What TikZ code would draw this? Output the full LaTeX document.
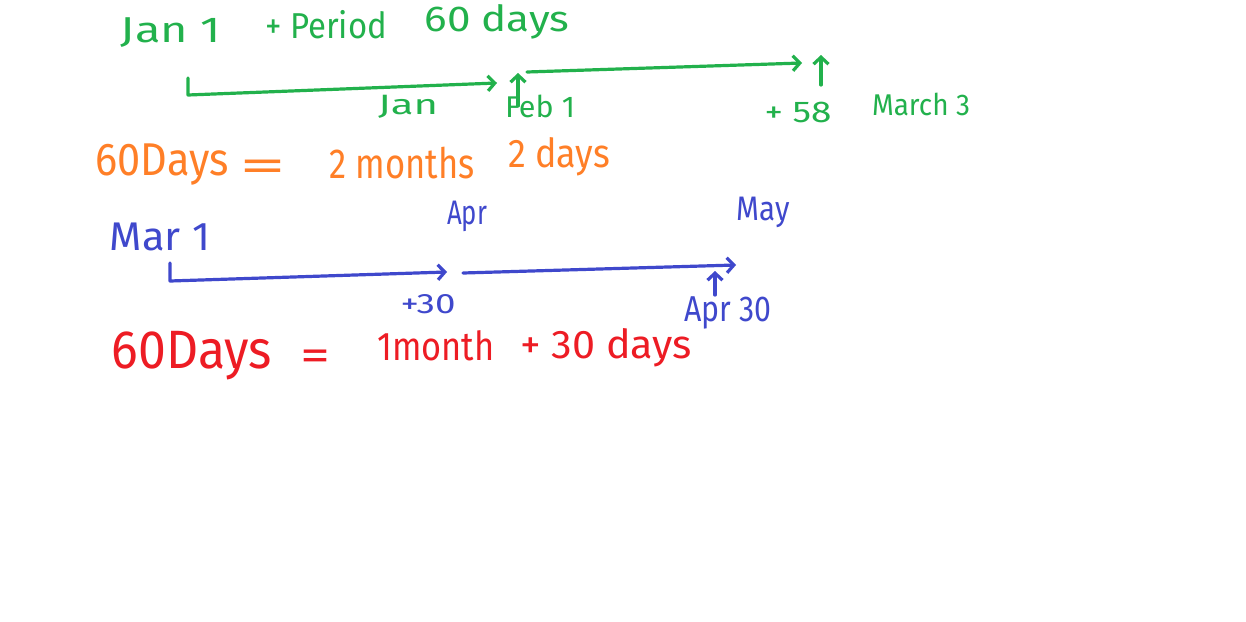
\documentclass[tikz,border=0pt]{standalone}
\usepackage{fontspec}
\usepackage{graphicx}
\setmainfont{Fira Sans}
\usetikzlibrary{arrows.meta}
\definecolor{pgreen}{RGB}{34,177,76}
\definecolor{porange}{RGB}{255,127,39}
\definecolor{pblue}{RGB}{63,72,204}
\definecolor{pred}{RGB}{237,28,36}
\newcommand{\hw}[2]{\resizebox{#1pt}{\height}{#2}}
\tikzset{
  txt/.style={inner sep=0pt, font=\fontsize{#1}{#1}\selectfont},
  stroke/.style={line width=3.2pt, line cap=round, line join=round, -{Straight Barb[length=7pt,width=15pt,line width=3.2pt]}}
}
\begin{document}
\begin{tikzpicture}[x=1pt,y=-1pt]
\useasboundingbox[fill=white] (0,0) rectangle (1246,621);
% green
\begin{scope}[color=pgreen, every node/.append style={text=pgreen}]
\node[txt=36] (jan1) at (171,33) {\hw{100}{Jan 1}};
\node[txt=36] (period) at (326,25) {\hw{122}{+ Period}};
\node[txt=36] (sixty) at (497,22) {\hw{145}{60 days}};
\coordinate (g0) at (188,78);
\coordinate (g1) at (497,83);
\coordinate (g2) at (527,72);
\coordinate (g3) at (802,63);
\coordinate (ua0) at (518,106);
\coordinate (ua1) at (518,73);
\coordinate (ub0) at (821,85);
\coordinate (ub1) at (821,55);
\draw[stroke] (g0) -- (188,95) -- (g1);
\draw[stroke] (g2) -- (g3);
\draw[stroke] (ua0) -- (ua1);
\draw[stroke] (ub0) -- (ub1);
\node[txt=28] (jan) at (408,107) {\hw{60}{Jan}};
\node[txt=30] (feb1) at (540,106) {\hw{70}{Feb 1}};
\node[txt=30] (p58) at (798,112) {\hw{67}{+ 58}};
\node[txt=30] (mar3) at (921,104) {\hw{98}{March 3}};
\end{scope}
% orange
\begin{scope}[every node/.append style={text=porange}]
\node[txt=46] (o60) at (162,165) {\hw{133}{60Days}};
\node[txt=46] (oeq) at (263,171) {\hw{47}{=}};
\node[txt=42] (o2m) at (402,163) {\hw{145}{2 months}};
\node[txt=40] (o2d) at (559,157) {\hw{102}{2 days}};
\end{scope}
% blue
\begin{scope}[color=pblue, every node/.append style={text=pblue}]
\node[txt=40] (mar1) at (160,237) {\hw{100}{Mar 1}};
\node[txt=34] (apr) at (467,216) {\hw{40}{Apr}};
\node[txt=34] (may) at (763,212) {\hw{53}{May}};
\coordinate (b0) at (170,263);
\coordinate (b1) at (447,272);
\coordinate (b2) at (463,273);
\coordinate (b3) at (736,265);
\coordinate (bu0) at (715,295);
\coordinate (bu1) at (715,271);
\draw[stroke] (b0) -- (170,281) -- (b1);
\draw[stroke] (b2) -- (b3);
\draw[stroke] (bu0) -- (bu1);
\node[txt=28] (p30) at (428,304) {\hw{55}{+30}};
\node[txt=36] (apr30) at (728,313) {\hw{87}{Apr 30}};
\end{scope}
% red
\begin{scope}[every node/.append style={text=pred}]
\node[txt=54] (r60) at (192,356) {\hw{160}{60Days}};
\node[txt=44] (req) at (315,360) {\hw{30}{=}};
\node[txt=40] (r1m) at (436,346) {\hw{117}{1month}};
\node[txt=40] (r30) at (606,348) {\hw{172}{+ 30 days}};
\end{scope}
\end{tikzpicture}
\end{document}
